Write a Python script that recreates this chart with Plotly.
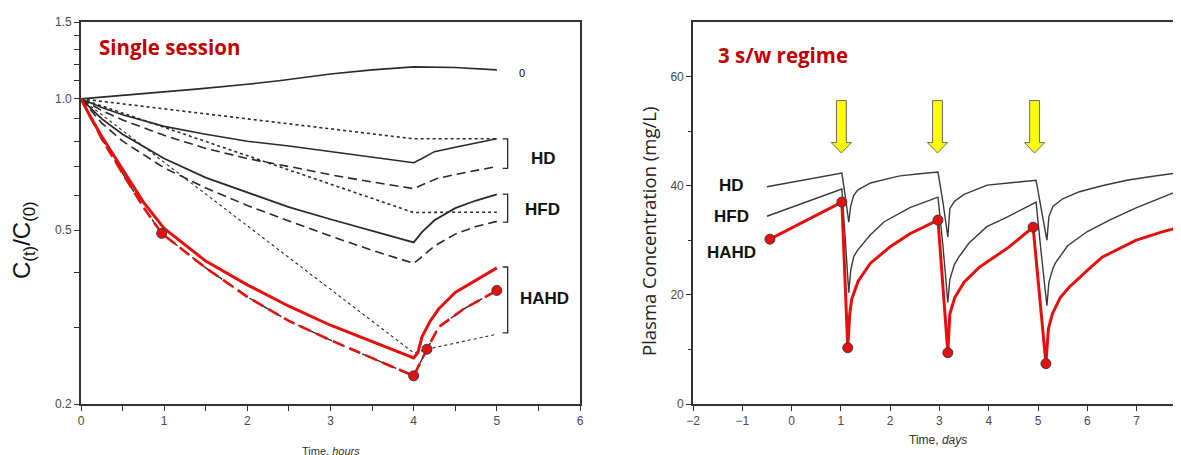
import math
import plotly.graph_objects as go

# ---------------- Left panel: single session (hours, C(t)/C(0)) ----------------
t_zero = [0, 1, 1.42, 2, 2.38, 3, 3.5, 4, 4.5, 5]
y_zero = [1.0, 1.035, 1.054, 1.08, 1.10, 1.14, 1.165, 1.184, 1.18, 1.165]

t_hd_dot = [0, 1, 2, 3, 4, 4.5, 5]
y_hd_dot = [1.0, 0.949, 0.90, 0.854, 0.81, 0.81, 0.81]

t_hd_sol = [0, 0.25, 0.5, 1, 1.5, 2, 2.5, 3, 3.5, 4, 4.1, 4.25, 4.5, 4.75, 5]
y_hd_sol = [1.0, 0.955, 0.92, 0.865, 0.83, 0.80, 0.78, 0.758, 0.735, 0.714, 0.73, 0.757, 0.775, 0.792, 0.81]

t_hd_dash = [0, 0.25, 0.5, 1, 1.5, 2, 2.5, 3, 3.5, 4, 4.28, 4.55, 5]
y_hd_dash = [1.0, 0.94, 0.895, 0.825, 0.77, 0.73, 0.70, 0.67, 0.645, 0.623, 0.657, 0.674, 0.70]

t_hfd_dot = [0, 1, 2, 3, 4, 4.5, 5]
y_hfd_dot = [1.0, 0.86, 0.741, 0.638, 0.549, 0.55, 0.55]

t_hfd_sol = [0, 0.25, 0.5, 1, 1.5, 2, 2.5, 3, 3.5, 4, 4.1, 4.25, 4.5, 4.75, 5]
y_hfd_sol = [1.0, 0.90, 0.83, 0.73, 0.66, 0.61, 0.565, 0.53, 0.498, 0.469, 0.495, 0.527, 0.562, 0.585, 0.604]

t_hfd_dash = [0, 0.25, 0.5, 1, 1.5, 2, 2.5, 3, 3.5, 4, 4.1, 4.25, 4.5, 4.75, 5]
y_hfd_dash = [1.0, 0.88, 0.80, 0.695, 0.625, 0.57, 0.525, 0.485, 0.45, 0.42, 0.435, 0.46, 0.49, 0.51, 0.524]

t_hahd_dot = [0, 4, 4.16, 5]
y_hahd_dot = [1.0, 0.262, 0.267, 0.289]

t_hahd_sol = [0, 0.1, 0.25, 0.5, 0.75, 1, 1.5, 2, 2.5, 3, 3.5, 3.95, 4.0, 4.05, 4.1, 4.2, 4.3, 4.5, 4.75, 5]
y_hahd_sol = [1.0, 0.92, 0.82, 0.69, 0.58, 0.505, 0.425, 0.375, 0.335, 0.303, 0.278, 0.258, 0.255, 0.262, 0.285, 0.31, 0.33, 0.36, 0.385, 0.41]

t_hahd_dash = [0, 0.25, 0.5, 0.75, 0.97, 1.5, 2, 2.5, 3, 3.5, 4, 4.16, 4.3, 4.6, 5]
y_hahd_dash = [1.0, 0.81, 0.675, 0.565, 0.492, 0.41, 0.352, 0.31, 0.28, 0.255, 0.232, 0.267, 0.30, 0.33, 0.364]

t_left_pts = [0.97, 4.0, 4.16, 5.0]
y_left_pts = [0.492, 0.232, 0.267, 0.364]

# brackets (top, bottom values) for HD / HFD / HAHD groups
bracket_hd = [0.81, 0.693]
bracket_hfd = [0.605, 0.522]
bracket_hahd = [0.412, 0.291]

left_xticks = [0, 1, 2, 3, 4, 5, 6]
left_xminor = [0.5, 1.5, 2.5, 3.5, 4.5, 5.5]
left_yticks = [0.2, 0.5, 1.0, 1.5]
left_yticklabels = ["0.2", "0.5", "1.0", "1.5"]
left_yminor = [0.3, 0.4, 0.6, 0.7, 0.8, 0.9, 1.1, 1.2, 1.3, 1.4]

# ---------------- Right panel: 3 sessions/week (days, mg/L) ----------------
d_hd = [-0.50, 0.0, 0.5, 1.02, 1.09, 1.16, 1.20, 1.26, 1.34, 1.6, 2.0, 2.2, 2.6, 2.97, 3.07, 3.17, 3.21, 3.3, 3.5, 3.97, 4.5, 4.96, 5.06, 5.18, 5.22, 5.3, 5.5, 5.84, 6.3, 6.8, 7.3, 7.88]
c_hd = [39.8, 40.6, 41.4, 42.3, 38.0, 33.3, 36.3, 38.2, 39.2, 40.5, 41.4, 41.8, 42.2, 42.5, 37.0, 30.6, 35.8, 37.1, 38.4, 40.1, 40.6, 41.0, 36.0, 30.0, 34.3, 36.2, 37.6, 38.9, 40.0, 41.0, 41.7, 42.4]

d_hfd = [-0.50, 0.0, 0.5, 1.02, 1.09, 1.16, 1.20, 1.26, 1.34, 1.6, 1.88, 2.4, 2.97, 3.07, 3.17, 3.21, 3.3, 3.39, 3.6, 3.96, 4.36, 4.96, 5.06, 5.18, 5.22, 5.3, 5.35, 5.6, 6.0, 6.45, 7.0, 7.5, 7.88]
c_hfd = [34.4, 36.0, 37.6, 39.4, 30.0, 20.4, 24.5, 27.0, 28.2, 31.0, 33.4, 36.0, 37.9, 29.0, 18.6, 22.8, 25.5, 26.9, 29.5, 32.5, 34.2, 37.0, 28.0, 18.0, 22.3, 24.8, 25.8, 29.0, 31.6, 33.7, 36.0, 37.8, 39.2]

d_hahd = [-0.44, 1.02, 1.14, 1.18, 1.22, 1.35, 1.6, 2.0, 2.4, 2.97, 3.17, 3.21, 3.31, 3.5, 3.8, 4.4, 4.90, 5.16, 5.21, 5.29, 5.45, 5.63, 6.0, 6.3, 6.98, 7.5, 7.88]
c_hahd = [30.2, 37.0, 10.3, 16.5, 19.2, 22.5, 25.8, 28.8, 31.2, 33.7, 9.4, 16.5, 19.5, 22.3, 25.0, 28.7, 32.4, 7.4, 13.8, 16.5, 19.5, 21.4, 24.5, 26.9, 30.0, 31.5, 32.4]

d_pts = [-0.44, 1.02, 1.14, 2.97, 3.17, 4.90, 5.16, 7.88]
c_pts = [30.2, 37.0, 10.3, 33.7, 9.4, 32.4, 7.4, 32.4]

session_days = [1.01, 2.96, 4.93]

right_xticks = [-2, -1, 0, 1, 2, 3, 4, 5, 6, 7]
right_yticks = [0, 20, 40, 60]
right_yminor = [10, 30, 50]

RED = "#e5100e"
BLACK = "#2a2a2a"
AX = "#333333"
TICKFONT = dict(family="Liberation Sans, Arial, sans-serif", size=12, color="#4a4a4a")

# page body has an 8px margin: figure is sized/positioned to compensate
FIG_W, FIG_H, OFF = 1173, 447, 8


def px2x(px):
    return (px - OFF) / FIG_W


def py2y(py):
    return (FIG_H + OFF - py) / FIG_H


fig = go.Figure()


def line(x, y, color=BLACK, width=1.5, dash="solid", ax="1"):
    kw = {}
    if ax == "2":
        kw = dict(xaxis="x2", yaxis="y2")
    fig.add_trace(go.Scatter(x=x, y=y, mode="lines", line=dict(color=color, width=width, dash=dash),
                             hoverinfo="skip", **kw))


# left panel curves
line(t_zero, y_zero, width=1.6)
line(t_hd_dot, y_hd_dot, width=1.6, dash="dot")
line(t_hd_sol, y_hd_sol, width=1.6)
line(t_hd_dash, y_hd_dash, width=1.6, dash="9px,5px")
line(t_hfd_dot, y_hfd_dot, width=1.6, dash="dot")
line(t_hfd_sol, y_hfd_sol, width=1.8)
line(t_hfd_dash, y_hfd_dash, width=1.6, dash="9px,5px")
line(t_hahd_dot, y_hahd_dot, width=1.1, dash="dot")
line(t_hahd_dash, y_hahd_dash, color=BLACK, width=1.4, dash="9px,5px")
line(t_hahd_dash, y_hahd_dash, color=RED, width=2.6, dash="12px,6px")
line(t_hahd_sol, y_hahd_sol, color=RED, width=3)
fig.add_trace(go.Scatter(x=t_left_pts, y=y_left_pts, mode="markers", hoverinfo="skip",
                         marker=dict(size=10, color=RED, line=dict(color="#3a3a4a", width=1))))

# brackets
for top, bot in (bracket_hd, bracket_hfd, bracket_hahd):
    line([5.07, 5.13, 5.13, 5.07], [top, top, bot, bot], color=BLACK, width=1.3)

# right panel curves
line(d_hd, c_hd, color="#3a3a3a", width=1.4, ax="2")
line(d_hfd, c_hfd, color="#3a3a3a", width=1.4, ax="2")
line(d_hahd, c_hahd, color=RED, width=3, ax="2")
fig.add_trace(go.Scatter(x=d_pts, y=c_pts, mode="markers", xaxis="x2", yaxis="y2", hoverinfo="skip",
                         cliponaxis=False,
                         marker=dict(size=10, color=RED, line=dict(color="#3a3a4a", width=1))))

# session arrows
shapes = []
for d in session_days:
    path = (f"M {d-0.1},55.6 L {d+0.1},55.6 L {d+0.1},47.9 L {d+0.205},47.9 "
            f"L {d},46.0 L {d-0.205},47.9 L {d-0.1},47.9 Z")
    shapes.append(dict(type="path", path=path, xref="x2", yref="y2",
                       fillcolor="#ffff00", line=dict(color="#6b6b6b", width=1)))

Y_DOM = [py2y(404), py2y(22)]

common = dict(ticks="outside", ticklen=5, tickwidth=1.3, tickcolor=AX, showline=True, linecolor=AX,
              linewidth=1.6, mirror=True, showgrid=False, zeroline=False, tickfont=TICKFONT,
              automargin=False, tickmode="array")

fig.update_layout(
    width=FIG_W, height=FIG_H, margin=dict(l=0, r=0, t=0, b=0, autoexpand=False),
    paper_bgcolor="white", plot_bgcolor="white", showlegend=False,
    shapes=shapes,
    xaxis=dict(domain=[px2x(81), px2x(580)], range=[0, 6], anchor="y", tickvals=left_xticks,
               minor=dict(tickvals=left_xminor, ticks="outside", ticklen=5, tickwidth=1.3, tickcolor=AX,
                          showgrid=False), **common),
    yaxis=dict(type="log", domain=Y_DOM, range=[math.log10(0.2), math.log10(1.5)], anchor="x",
               tickvals=left_yticks, ticktext=left_yticklabels,
               minor=dict(tickvals=left_yminor, ticks="outside", ticklen=5, tickwidth=1.3, tickcolor=AX,
                          showgrid=False), **common),
    xaxis2=dict(domain=[px2x(693), 1.0], range=[-2, 7.9], anchor="y2", tickvals=right_xticks, **common),
    yaxis2=dict(domain=Y_DOM, range=[0, 70], anchor="x2", tickvals=right_yticks,
                minor=dict(tickvals=right_yminor, ticks="outside", ticklen=3, tickwidth=1.3, tickcolor=AX,
                           showgrid=False), **common),
)

LBL = dict(family="Liberation Sans, Arial, sans-serif", size=17, color="#111111")
TITLE_RED = dict(family="Open Sans, Noto Sans, sans-serif", size=20.5, color="#c00000")

ann = [
    # left panel
    dict(text="<b>Single session</b>", x=px2x(97), y=py2y(47), xref="paper", yref="paper",
         xanchor="left", yanchor="middle", showarrow=False, font=TITLE_RED),
    dict(text="0", x=5.24, y=math.log10(1.148), xref="x", yref="y", xanchor="left", yanchor="middle",
         showarrow=False, font=dict(family="Liberation Sans, Arial", size=11, color="#000000")),
    dict(text="<b>HD</b>", x=5.39, y=math.log10(0.731), xref="x", yref="y", xanchor="left",
         yanchor="middle", showarrow=False, font=LBL),
    dict(text="<b>HFD</b>", x=5.31, y=math.log10(0.558), xref="x", yref="y", xanchor="left",
         yanchor="middle", showarrow=False, font=LBL),
    dict(text="<b>HAHD</b>", x=5.25, y=math.log10(0.348), xref="x", yref="y", xanchor="left",
         yanchor="middle", showarrow=False, font=LBL),
    dict(text="C<sub>(t)</sub>/C<sub>(0)</sub>", x=px2x(23), y=py2y(240), xref="paper", yref="paper",
         xanchor="center", yanchor="middle", textangle=-90, showarrow=False,
         font=dict(family="Liberation Sans, Arial", size=24, color="#111111")),
    dict(text="Time, <i>hours</i>", x=px2x(331), y=py2y(443), xref="paper", yref="paper",
         xanchor="center", yanchor="top", showarrow=False,
         font=dict(family="Liberation Sans, Arial", size=11, color="#333333")),
    # right panel
    dict(text="<b>3 s/w regime</b>", x=px2x(716), y=py2y(55), xref="paper", yref="paper",
         xanchor="left", yanchor="middle", showarrow=False, font=TITLE_RED),
    dict(text="<b>HD</b>", x=-1.21, y=40.1, xref="x2", yref="y2", xanchor="center", yanchor="middle",
         showarrow=False, font=LBL),
    dict(text="<b>HFD</b>", x=-1.21, y=34.3, xref="x2", yref="y2", xanchor="center", yanchor="middle",
         showarrow=False, font=LBL),
    dict(text="<b>HAHD</b>", x=-1.21, y=27.8, xref="x2", yref="y2", xanchor="center", yanchor="middle",
         showarrow=False, font=LBL),
    dict(text="Plasma Concentration (mg/L)", x=px2x(648), y=py2y(232), xref="paper", yref="paper",
         xanchor="center", yanchor="middle", textangle=-90, showarrow=False,
         font=dict(family="Open Sans, Noto Sans, sans-serif", size=18.5, color="#222222")),
    dict(text="Time, <i>days</i>", x=px2x(938), y=py2y(440), xref="paper", yref="paper",
         xanchor="center", yanchor="middle", showarrow=False,
         font=dict(family="Liberation Sans, Arial", size=12, color="#333333")),
]
fig.update_layout(annotations=ann)

fig.write_html("out.html")
